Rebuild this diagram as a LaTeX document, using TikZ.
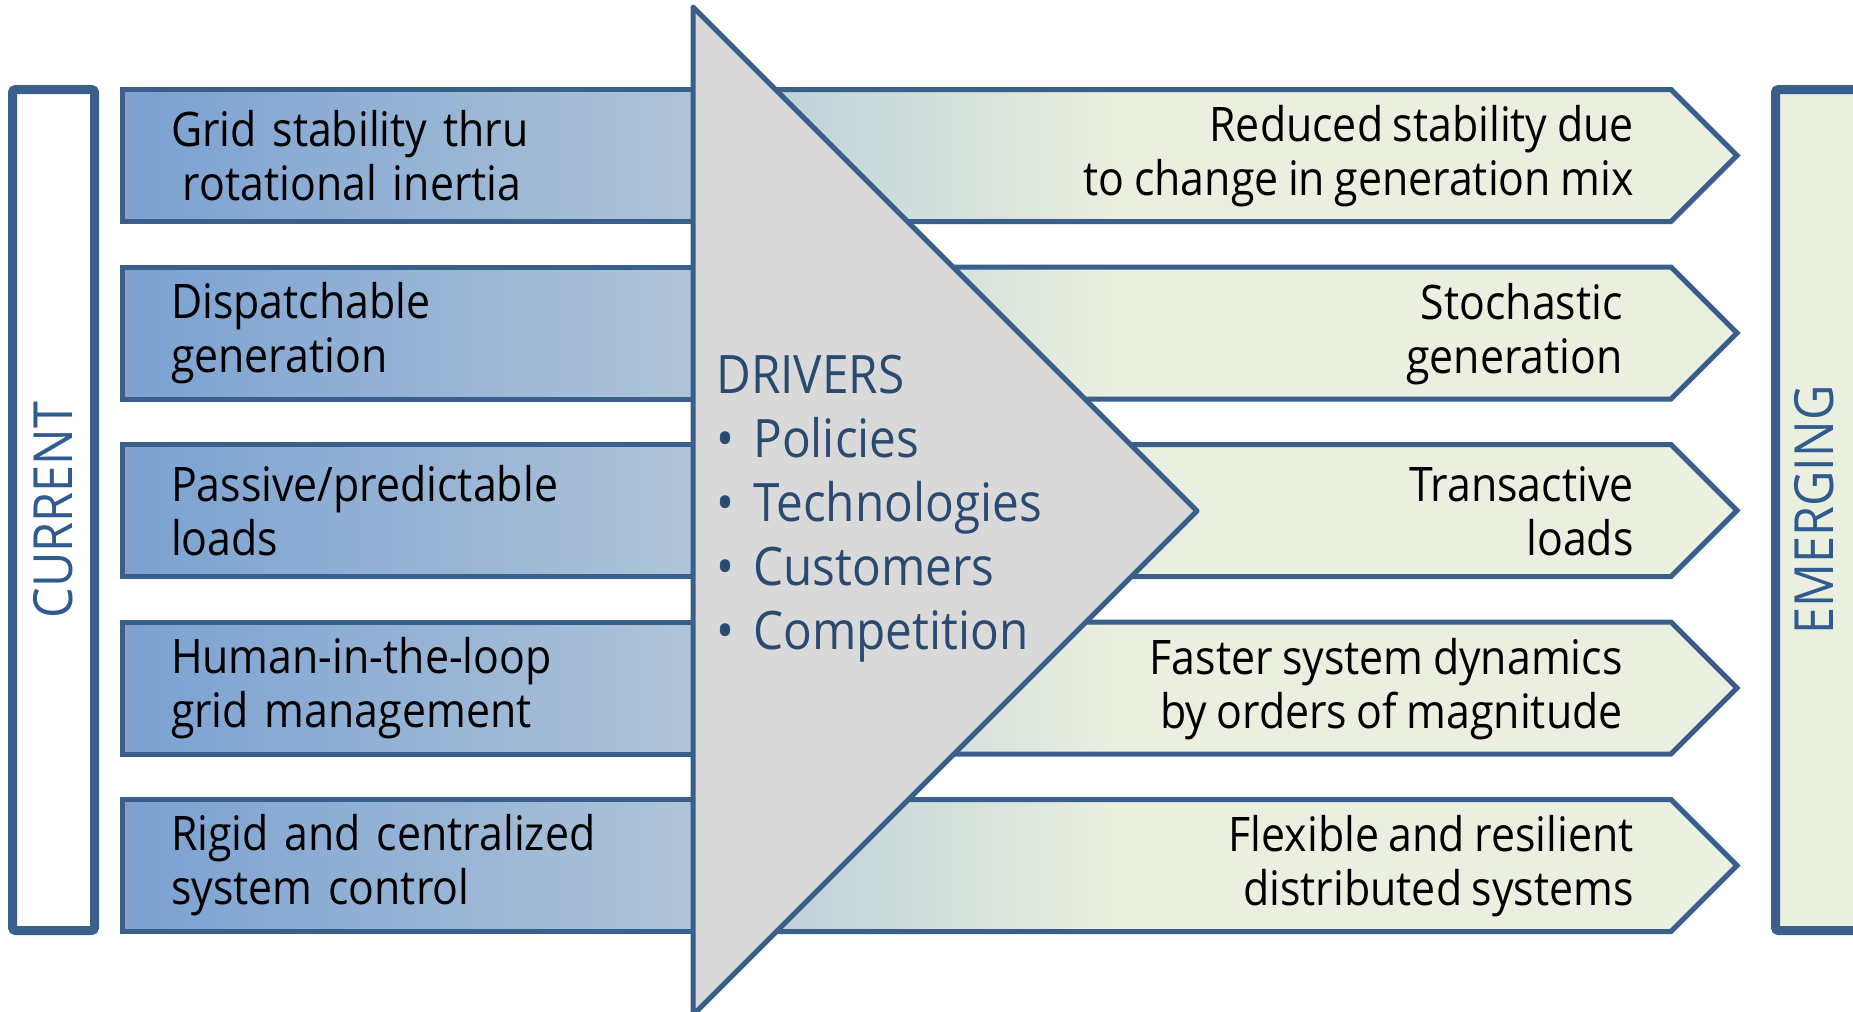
\documentclass[tikz,border=0pt]{standalone}
\usepackage{xcolor}
\usepackage{tikz}
\usepackage{fontspec}
\setmainfont{Open Sans}[FakeStretch=0.9, WordSpace=0.85]
\usetikzlibrary{shapes, positioning}

\definecolor{edgeblue}{HTML}{3A5F8B}
\definecolor{oldgray}{HTML}{8A9FC0}
\definecolor{oldleft}{HTML}{7CA2D2}
\definecolor{oldright}{HTML}{AFC4D8}
\definecolor{newleft}{HTML}{B4C9D7}
\definecolor{newright}{HTML}{EAEFDF}
\definecolor{drivergray}{HTML}{D9D9D9}
\definecolor{drivertext}{HTML}{2B4A72}
\definecolor{labelblue}{HTML}{2F5B8E}

\pgfdeclarehorizontalshading{oldshade}{100bp}{color(0bp)=(oldgray); color(25bp)=(oldgray); color(26.5bp)=(oldleft); color(75bp)=(oldright); color(100bp)=(oldright)}
\pgfdeclarehorizontalshading{newshade}{100bp}{color(0bp)=(newleft); color(25bp)=(newleft); color(45bp)=(newright); color(100bp)=(newright)}

\begin{document}
\begin{tikzpicture}[x=0.5pt, y=-0.5pt,
    boxfont/.style={font=\fontsize{23.8}{27}\selectfont},
    oldbox/.style={boxfont, draw=edgeblue, line width=2.5pt, shade, shading=oldshade,
                   minimum width=285.25pt, minimum height=66pt, text width=236.75pt,
                   inner xsep=24.25pt, inner ysep=0pt, align=left},
    newarrow/.style={draw=edgeblue, line width=2.5pt, shade, shading=newshade},
    newtext/.style={boxfont, align=right, anchor=east, inner sep=0pt},
    sidebox/.style={draw=edgeblue, line width=4.5pt, rounded corners=1.5pt},
    sidelabel/.style={text=labelblue, rotate=90, inner sep=0pt, font=\fontsize{27}{30}\selectfont},
    drivertri/.style={draw=edgeblue, line width=2.5pt, fill=drivergray, line join=round},
    drvitem/.style={text=drivertext, inner sep=0pt, text height=20pt, text depth=6pt,
                    font=\fontsize{26.5}{32}\selectfont}]
        \useasboundingbox (0,0) rectangle (1853,1012);

        \draw[sidebox, fill=white]    (12.5,89.5)   rectangle (94.5,930.5);
        \draw[sidebox, fill=newright] (1775.5,89.5) rectangle (1880,930.5);
        \node[sidelabel] (current)  at (53.5,510)  {CURRENT};
        \node[sidelabel] (emerging) at (1814,510)  {EMERGING};

        \draw[newarrow] (693,89.5)  -- (1671,89.5)  -- (1737,155.5) -- (1671,221.5) -- (693,221.5) -- cycle;
        \draw[newarrow] (693,267)   -- (1671,267)   -- (1737,333)   -- (1671,399)   -- (693,399)   -- cycle;
        \draw[newarrow] (693,444.5) -- (1671,444.5) -- (1737,510.5) -- (1671,576.5) -- (693,576.5) -- cycle;
        \draw[newarrow] (693,622)   -- (1671,622)   -- (1737,688)   -- (1671,754)   -- (693,754)   -- cycle;
        \draw[newarrow] (693,799.5) -- (1671,799.5) -- (1737,865.5) -- (1671,931.5) -- (693,931.5) -- cycle;

        \node[newtext] (new1) at (1634,156) {Reduced stability due\\to change in generation mix};
        \node[newtext] (new2) at (1623,334) {Stochastic\\generation};
        \node[newtext] (new3) at (1634,511) {Transactive\\loads};
        \node[newtext] (new4) at (1623,689) {Faster system dynamics\\by orders of magnitude};
        \node[newtext] (new5) at (1634,866) {Flexible and resilient\\distributed systems};

        \node[oldbox] (old1) at (407.75,155.5) {Grid stability thru\\\hspace*{0.25em}rotational inertia};
        \node[oldbox] (old2) at (407.75,333)   {Dispatchable\\generation};
        \node[oldbox] (old3) at (407.75,510.5) {Passive/predictable\\loads};
        \node[oldbox] (old4) at (407.75,688)   {Human-in-the-loop\\grid management};
        \node[oldbox] (old5) at (407.75,865.5) {Rigid and centralized\\system control};

        \draw[drivertri] (693,7) -- (1197,511) -- (693,1015) -- cycle;

        \node[drvitem, anchor=base west] (drivers) at (716,393) {DRIVERS};
        \node[drvitem, below=32pt of drivers.west, anchor=west] (policies)    {\makebox[18.5pt][l]{\textbullet}Policies};
        \node[drvitem, below=32pt of policies.west, anchor=west] (technologies) {\makebox[18.5pt][l]{\textbullet}Technologies};
        \node[drvitem, below=32pt of technologies.west, anchor=west] (customers) {\makebox[18.5pt][l]{\textbullet}Customers};
        \node[drvitem, below=32pt of customers.west, anchor=west] (competition)  {\makebox[18.5pt][l]{\textbullet}Competition};
\end{tikzpicture}
\end{document}
